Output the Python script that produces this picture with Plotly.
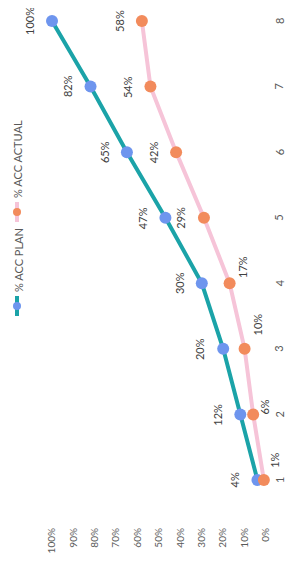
import plotly.graph_objects as go

# ---- data ----
categories = [1, 2, 3, 4, 5, 6, 7, 8]
plan_pct = [4, 12, 20, 30, 47, 65, 82, 100]
actual_pct = [1, 6, 10, 17, 29, 42, 54, 58]
pct_ticks = [0, 10, 20, 30, 40, 50, 60, 70, 80, 90, 100]
pct_tick_labels = [f"{t}%" for t in pct_ticks]
category_labels = [str(c) for c in categories]
series_names = ["% ACC PLAN", "% ACC ACTUAL"]

# ---- style ----
PAGE_OFF = 8                      # default body margin of the html page
W, H = 294 - PAGE_OFF, 562 - PAGE_OFF
ML, MR, MT, MB = 0, 24, 0, 37
PLAN_LINE, PLAN_MARK = "#1BA3A8", "#6E95EE"
ACT_LINE, ACT_MARK = "#F6C4D8", "#F28B5C"
FONT = "Lato"
LABEL_COLOR = "#404040"
TICK_COLOR = "#595959"
# pixel shifts of the actual-series data labels (label placement style)
ACT_LABEL_SHIFT = [(10, 20), (11, 7), (13, 24), (13, 16), (-23, 0), (-23, 0), (-23, 0), (-23, 0)]

plot_w = W - ML - MR
plot_h = H - MT - MB


def px_to_paper(page_x, page_y):
    fx, fy = page_x - PAGE_OFF, page_y - PAGE_OFF
    return (fx - ML) / plot_w, (H - MB - fy) / plot_h


fig = go.Figure()
fig.add_trace(go.Scatter(
    x=plan_pct, y=categories, mode="lines+markers", name=series_names[0],
    line=dict(color=PLAN_LINE, width=4), cliponaxis=False,
    marker=dict(color=PLAN_MARK, size=12), showlegend=False))
fig.add_trace(go.Scatter(
    x=actual_pct, y=categories, mode="lines+markers", name=series_names[1],
    line=dict(color=ACT_LINE, width=4), cliponaxis=False,
    marker=dict(color=ACT_MARK, size=12), showlegend=False))

annotations = []
for c, v in zip(categories, plan_pct):
    annotations.append(dict(x=v, y=c, xref="x", yref="y", text=f"{v}%",
                            showarrow=False, textangle=-90, xshift=-23,
                            font=dict(family=FONT, size=11, color=LABEL_COLOR)))
for (c, v), (xs, ys) in zip(zip(categories, actual_pct), ACT_LABEL_SHIFT):
    annotations.append(dict(x=v, y=c, xref="x", yref="y", text=f"{v}%",
                            showarrow=False, textangle=-90, xshift=xs, yshift=ys,
                            font=dict(family=FONT, size=11, color=LABEL_COLOR)))

# category axis labels (right side, rotated)
cat_label_x, _ = px_to_paper(279, 0)
for c, lab in zip(categories, category_labels):
    annotations.append(dict(x=cat_label_x, y=c, xref="paper", yref="y", text=lab,
                            showarrow=False, textangle=-90, xanchor="center",
                            font=dict(family=FONT, size=11, color=TICK_COLOR)))

# legend (rotated, drawn manually)
legend_items = [
    (series_names[0], PLAN_LINE, PLAN_MARK, 306),
    (series_names[1], ACT_LINE, ACT_MARK, 212),
]
shapes = []
for name, lc, mc, sym_y in legend_items:
    x0, y0 = px_to_paper(17, sym_y + 10)
    x1, y1 = px_to_paper(17, sym_y - 10)
    shapes.append(dict(type="line", xref="paper", yref="paper", x0=x0, y0=y0, x1=x1, y1=y1,
                       line=dict(color=lc, width=4)))
    cx0, cy0 = px_to_paper(13, sym_y + 4)
    cx1, cy1 = px_to_paper(21, sym_y - 4)
    shapes.append(dict(type="circle", xref="paper", yref="paper", x0=cx0, y0=cy0, x1=cx1, y1=cy1,
                       fillcolor=mc, line=dict(width=0)))
    tx, ty = px_to_paper(18, sym_y - 12)
    annotations.append(dict(x=tx, y=ty, xref="paper", yref="paper", text=name,
                            showarrow=False, textangle=-90, xanchor="center", yanchor="bottom",
                            font=dict(family=FONT, size=11, color=TICK_COLOR)))

# axis geometry (page pixel targets)
zero_page_x, px_per_pct = 266, 2.14
zero_fx = zero_page_x - PAGE_OFF
x_left = (zero_fx - ML) / px_per_pct
x_right = -(ML + plot_w - zero_fx) / px_per_pct

cat1_fy, cat8_fy = 480 - PAGE_OFF, 21 - PAGE_OFF
px_per_cat = (cat1_fy - cat8_fy) / 7
y_low = 1 - (H - MB - cat1_fy) / px_per_cat
y_high = 8 + (cat8_fy - MT) / px_per_cat

fig.update_layout(
    width=W, height=H,
    margin=dict(l=ML, r=MR, t=MT, b=MB),
    paper_bgcolor="white", plot_bgcolor="white",
    font=dict(family=FONT, color=TICK_COLOR),
    xaxis=dict(range=[x_left, x_right], tickvals=pct_ticks, ticktext=pct_tick_labels,
               tickangle=-90, showgrid=False, zeroline=False, showline=False,
               tickfont=dict(family=FONT, size=10, color=TICK_COLOR)),
    yaxis=dict(range=[y_low, y_high], tickvals=categories, showticklabels=False,
               side="right", showgrid=False, zeroline=False, showline=False),
    annotations=annotations, shapes=shapes,
)

fig.write_html("out.html")
